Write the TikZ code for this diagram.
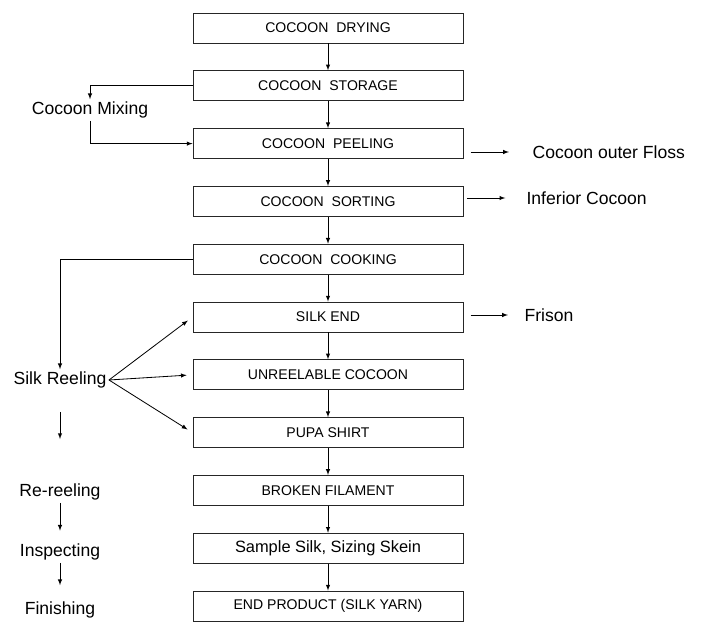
\documentclass[tikz,border=0pt]{standalone}
\usepackage{fontspec}
\setmainfont{Liberation Sans}
\tikzstyle{stage}=[rectangle,draw=black!85,line width=0.8pt,minimum width=8.1cm,minimum height=0.9cm,font=\fontsize{12}{14}\selectfont]
\tikzstyle{side}=[inner sep=2pt,font=\fontsize{15}{17}\selectfont]
\tikzstyle{outside}=[inner sep=2pt,anchor=west,font=\fontsize{15}{17}\selectfont]
\tikzstyle{flow}=[-latex,line width=0.7pt]
\usetikzlibrary{arrows,positioning}

\begin{document}
\begin{tikzpicture}[x=0.03cm,y=-0.03cm,node distance=1.734cm,>=stealth',auto]
            \useasboundingbox (0,0) rectangle (707,628);

            % MAIN LINE

            \node[stage] at (328,28) (dry) {COCOON\ \ DRYING};
            \node[stage,below of=dry] (store) {COCOON\ \ STORAGE};
            \node[stage,below of=store] (peel) {COCOON\ \ PEELING};
            \node[stage,below of=peel] (sort) {COCOON\ \ SORTING};
            \node[stage,below of=sort] (cook) {COCOON\ \ COOKING};
            \node[stage,below of=cook] (silk) {SILK END};
            \node[stage,below of=silk] (unreel) {UNREELABLE COCOON};
            \node[stage,below of=unreel] (pupa) {PUPA SHIRT};
            \node[stage,below of=pupa] (broken) {BROKEN FILAMENT};
            \node[stage,below of=broken,font=\fontsize{14}{16}\selectfont] (sample) {Sample Silk, Sizing Skein};
            \node[stage,below of=sample] (product) {END PRODUCT (SILK YARN)};

            \path[flow] (dry) edge node {} (store);
            \path[flow] (store) edge node {} (peel);
            \path[flow] (peel) edge node {} (sort);
            \path[flow] (sort) edge node {} (cook);
            \path[flow] (cook) edge node {} (silk);
            \path[flow] (silk) edge node {} (unreel);
            \path[flow] (unreel) edge node {} (pupa);
            \path[flow] (pupa) edge node {} (broken);
            \path[flow] (broken) edge node {} (sample);
            \path[flow] (sample) edge node {} (product);

            % WASTE PART

            \node[outside] at (530,152) (floss) {Cocoon outer Floss};
            \node[outside] at (524,198) (inferior) {Inferior Cocoon};
            \node[outside] at (522,315) (frison) {Frison};

            \path[flow,shorten <=6pt,shorten >=18pt] (peel.east |- floss.west) edge node {} (floss.west);
            \path[flow,shorten <=3pt,shorten >=16pt] (sort.east |- inferior.west) edge node {} (inferior.west);
            \path[flow,shorten <=6pt,shorten >=12pt] (silk.east |- frison.west) edge node {} (frison.west);

            % MIXING PART

            \node[side] at (90,110) (mix) {Cocoon Mixing};

            \draw[flow] (store.west) -| (mix.north);
            \draw[flow] (mix.south) |- (peel.west);

            % REELING PART

            \node[side] at (60,380) (reel) {Silk Reeling};
            \node[side] at (60,492) (rereel) {Re-reeling};
            \node[side] at (60,552) (inspect) {Inspecting};
            \node[side] at (60,610) (finish) {Finishing};

            \draw[flow] (cook.west) -| (reel.north);
            \path[flow,shorten >=5pt] (reel.east) edge node {} (silk.west);
            \path[flow,shorten >=5pt] (reel.east) edge node {} (unreel.west);
            \path[flow,shorten >=5pt] (reel.east) edge node {} (pupa.west);
            \path[flow,shorten <=18pt,shorten >=36pt] (reel) edge node {} (rereel);
            \path[flow,shorten >=9pt] (rereel) edge node {} (inspect);
            \path[flow,shorten >=12pt] (inspect) edge node {} (finish);

\end{tikzpicture}
\end{document}
